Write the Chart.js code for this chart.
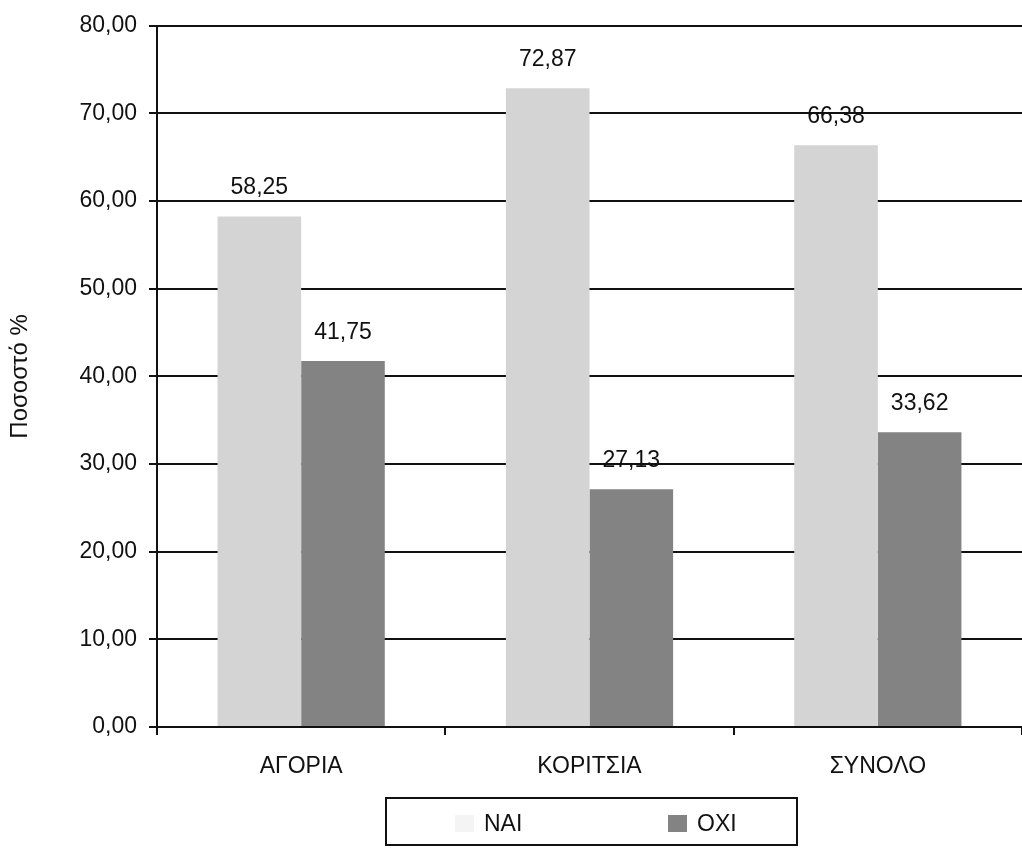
<!DOCTYPE html>
<html>
<head>
<meta charset="utf-8">
<script src="https://cdn.jsdelivr.net/npm/chart.js@4.4.1/dist/chart.umd.min.js"></script>
<style>
    body { margin: 0; background: #fff; }
    #wrap { position: relative; width: 1022px; height: 850px; }
    #legend {
        position: absolute; left: 385px; top: 797px; width: 413px; height: 49px;
        border: 2px solid #111; box-sizing: border-box;
        font-family: "Liberation Sans", Arial, sans-serif; font-size: 23px; color: #111;
    }
    #legend .item { position: absolute; top: 11px; }
    #legend .box { display: inline-block; width: 19px; height: 17px; margin-right: 10px; vertical-align: -1px; }
</style>
</head>
<body>
<div id="wrap">
    <canvas id="bar-chart" width="1022" height="850"></canvas>
    <div id="legend"></div>
</div>
<script>
const categories = ["ΑΓΟΡΙΑ", "ΚΟΡΙΤΣΙΑ", "ΣΥΝΟΛΟ"];
const seriesNames = ["ΝΑΙ", "ΟΧΙ"];
const naiValues = [58.25, 72.87, 66.38];
const oxiValues = [41.75, 27.13, 33.62];
const yTicks = [0, 10, 20, 30, 40, 50, 60, 70, 80];

const colors = ["#d4d4d4", "#838383"];
const fontName = "'Liberation Sans', Arial, sans-serif";

function fmt(v) {
    return v.toFixed(2).replace(".", ",");
}

// values above each bar
const valueLabels = {
    id: "valueLabels",
    afterDatasetsDraw(chart) {
        const ctx = chart.ctx;
        ctx.save();
        ctx.font = "23px " + fontName;
        ctx.fillStyle = "#111";
        ctx.textAlign = "center";
        ctx.textBaseline = "alphabetic";
        chart.data.datasets.forEach((ds, i) => {
            chart.getDatasetMeta(i).data.forEach((bar, j) => {
                ctx.fillText(fmt(ds.data[j]), bar.x, bar.y - 22);
            });
        });
        ctx.restore();
    }
};

new Chart(document.getElementById("bar-chart"), {
    type: "bar",
    data: {
        labels: categories,
        datasets: [
            { label: seriesNames[0], data: naiValues, backgroundColor: colors[0] },
            { label: seriesNames[1], data: oxiValues, backgroundColor: colors[1] }
        ]
    },
    options: {
        responsive: false,
        animation: false,
        devicePixelRatio: 1,
        layout: { padding: { top: 4, right: 0, bottom: 63, left: 0 } },
        datasets: {
            bar: { categoryPercentage: 0.58, barPercentage: 1 }
        },
        plugins: {
            legend: { display: false },
            tooltip: { enabled: false }
        },
        scales: {
            x: {
                grid: { drawOnChartArea: false, color: "#111", lineWidth: 2, tickLength: 8 },
                border: { color: "#111", width: 2 },
                ticks: { color: "#111", font: { family: fontName, size: 23 }, padding: 18 },
                afterFit: (scale) => { scale.height = 60; }
            },
            y: {
                min: 0,
                max: 80,
                afterBuildTicks: (scale) => { scale.ticks = yTicks.map(v => ({ value: v })); },
                grid: { color: "#111", lineWidth: 2, tickLength: 8 },
                border: { color: "#111", width: 2 },
                ticks: {
                    color: "#111",
                    font: { family: fontName, size: 23 },
                    padding: 12,
                    callback: (v) => fmt(v)
                },
                title: {
                    display: true,
                    text: "Ποσοστό %",
                    color: "#111",
                    font: { family: fontName, size: 24 },
                    padding: { top: 6, bottom: 0 }
                },
                afterFit: (scale) => { scale.width = 157; }
            }
        }
    },
    plugins: [valueLabels]
});

// legend in a box under the chart
const legend = document.getElementById("legend");
const itemLeft = [68, 281];
seriesNames.forEach((name, i) => {
    const item = document.createElement("span");
    item.className = "item";
    item.style.left = itemLeft[i] + "px";
    const box = document.createElement("span");
    box.className = "box";
    box.style.background = i === 0 ? "#f4f4f4" : colors[i];
    item.appendChild(box);
    item.appendChild(document.createTextNode(name));
    legend.appendChild(item);
});
</script>
</body>
</html>
